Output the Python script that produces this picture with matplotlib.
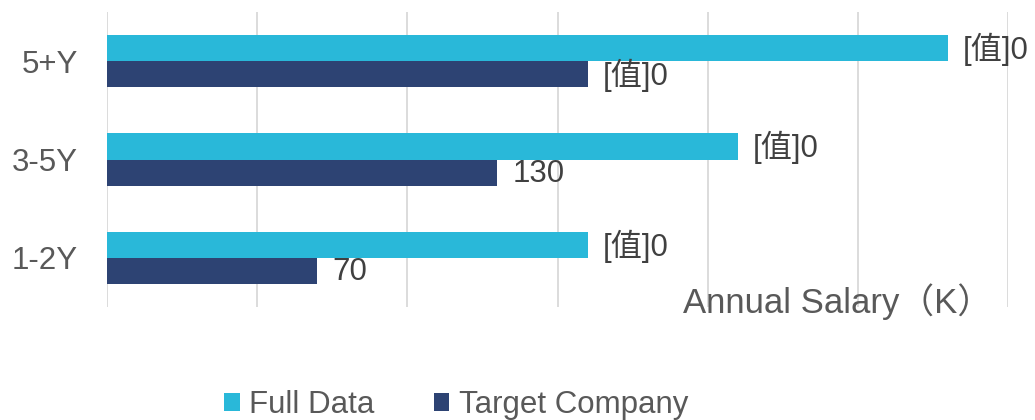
import matplotlib.pyplot as plt
import numpy as np

categories = ["1-2Y", "3-5Y", "5+Y"]
full_data = [160, 210, 280]
target_company = [70, 130, 160]
full_labels = ["[值]0", "[值]0", "[值]0"]
target_labels = ["70", "130", "[值]0"]

cyan = "#29B8D9"
navy = "#2D4373"
txt = "#595959"
fam = ["Liberation Sans", "Noto Sans CJK SC", "DejaVu Sans"]
plt.rcParams["font.family"] = fam
fs = 22.5

fig = plt.figure(figsize=(10.35, 4.2), dpi=100)
ax = fig.add_axes([107/1035, 1-307/420, (1008-107)/1035, (307-12)/420])

y = np.arange(len(categories))
h = 0.265
b1 = ax.barh(y + h/2, full_data, height=h, color=cyan, label="Full Data", zorder=3)
b2 = ax.barh(y - h/2, target_company, height=h, color=navy, label="Target Company", zorder=3)

for bars, labs in ((b1, full_labels), (b2, target_labels)):
    for r, lab in zip(bars, labs):
        ax.annotate(lab, (r.get_width(), r.get_y() + r.get_height()/2),
                    xytext=(11, -1), textcoords="offset points",
                    ha="left", va="center", fontsize=fs, color="#404040")

ax.set_xlim(0, 300)
ax.set_ylim(-0.5, 2.5)
ax.set_xticks(np.arange(0, 301, 50))
ax.set_xticklabels([])
ax.set_yticks(y)
ax.set_yticklabels(categories, fontsize=fs, color=txt)
ax.tick_params(length=0, axis="y", pad=21)
ax.tick_params(length=0, axis="x")
ax.grid(axis="x", color="#D9D9D9", lw=1.3, zorder=0)
for s in ax.spines.values():
    s.set_visible(False)

fig.text(992/1035, 1-302/420, "Annual Salary（K）", ha="right", va="center",
         fontsize=25, color=txt)

fig.legend(loc="center", bbox_to_anchor=(456/1035, 1-405/420), ncol=2, frameon=False,
           fontsize=fs, labelcolor=txt, handlelength=0.5, handleheight=0.5,
           handletextpad=0.3, columnspacing=1.9)

fig.savefig("out.png", dpi=100)
